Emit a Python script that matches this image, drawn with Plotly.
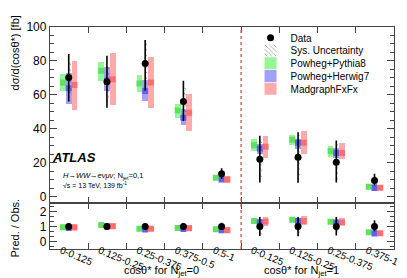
import plotly.graph_objects as go

# ---- data ----
bin_labels = ["0-0.125", "0.125-0.25", "0.25-0.375", "0.375-0.5", "0.5-1",
              "0-0.125", "0.125-0.25", "0.25-0.375", "0.375-1"]
data_val = [70.2, 67.7, 78.5, 56.1, 13.4, 22.0, 23.1, 20.2, 9.4]
data_up = [13.8, 15.3, 13.8, 12.2, 3.3, 13.9, 14.8, 12.8, 4.0]
data_dn = [14.2, 15.4, 16.0, 11.5, 3.0, 13.8, 15.0, 12.0, 2.9]
data_sys = [9.0, 10.0, 12.0, 8.0, 2.2, 12.5, 13.0, 11.0, 3.0]

pyt_c = [67.3, 74.2, 66.7, 50.8, 11.0, 30.2, 33.5, 26.7, 5.8]
pyt_lo = [62.3, 68.3, 61.5, 46.5, 9.6, 26.7, 30.6, 23.4, 4.6]
pyt_hi = [72.3, 79.6, 71.7, 54.6, 12.3, 34.0, 36.3, 29.8, 7.1]

her_c = [63.8, 68.5, 62.3, 46.5, 10.0, 28.3, 31.7, 25.7, 5.0]
her_lo = [54.6, 62.0, 56.5, 42.1, 8.4, 25.0, 28.3, 23.0, 3.8]
her_hi = [72.9, 76.3, 68.7, 51.4, 11.5, 31.2, 34.0, 28.8, 7.1]

mg_c = [65.8, 69.2, 67.3, 49.4, 10.0, 29.4, 31.7, 25.7, 5.2]
mg_lo = [51.0, 53.8, 52.3, 38.4, 7.7, 22.8, 24.8, 21.9, 3.8]
mg_hi = [80.2, 84.6, 82.1, 60.6, 12.3, 35.7, 38.8, 31.5, 6.5]

FONT = "Liberation Sans"
nb = len(bin_labels)
centers = [i + 0.5 for i in range(nb)]
edges = list(range(1, nb))

models = [
    ("Powheg+Pythia8", pyt_c, pyt_lo, pyt_hi, -0.16, "rgb(150,245,150)", "rgb(95,225,95)", "legend3"),
    ("Powheg+Herwig7", her_c, her_lo, her_hi, -0.01, "rgb(160,160,255)", "rgb(95,95,240)", "legend4"),
    ("MadgraphFxFx", mg_c, mg_lo, mg_hi, 0.14, "rgb(255,170,170)", "rgb(255,110,110)", "legend5"),
]
dx = -0.01
W = 0.15

fig = go.Figure()


def add_panel(ratio, xa, ya):
    show = not ratio
    dvals = [1.0] * nb if ratio else data_val
    den = data_val if ratio else [1.0] * nb
    for name, c, lo, hi, off, light, dark, leg in models:
        lo_r = [l / d for l, d in zip(lo, den)]
        hi_r = [h / d for h, d in zip(hi, den)]
        c_r = [v / d for v, d in zip(c, den)]
        fig.add_trace(go.Bar(
            x=[xc + off for xc in centers], y=[h - l for h, l in zip(hi_r, lo_r)],
            base=lo_r, width=W, marker=dict(color=light, line=dict(width=0)),
            name=name, showlegend=show, legend=leg,
            xaxis=xa, yaxis=ya, hoverinfo="skip"))
        fig.add_trace(go.Scatter(
            x=[xc + off for xc in centers], y=c_r, mode="markers",
            marker=dict(symbol="square", size=6, color=dark, line=dict(width=0)),
            showlegend=False, xaxis=xa, yaxis=ya, hoverinfo="skip"))
    sys_r = [s / d for s, d in zip(data_sys, den)]
    fig.add_trace(go.Bar(
        x=[xc + dx + 0.02 for xc in centers], y=[2 * s for s in sys_r],
        base=[v - s for v, s in zip(dvals, sys_r)], width=0.07,
        marker=dict(color="rgba(0,0,0,0)", line=dict(width=0),
                    pattern=dict(shape="\\", fgcolor="black", bgcolor="rgba(0,0,0,0)",
                                 size=4, solidity=0.2)),
        name="Sys. Uncertainty", showlegend=show, legend="legend2",
        xaxis=xa, yaxis=ya, hoverinfo="skip"))
    up_r = [u / d for u, d in zip(data_up, den)]
    dn_r = [u / d for u, d in zip(data_dn, den)]
    fig.add_trace(go.Scatter(
        x=[xc + dx for xc in centers], y=dvals, mode="markers",
        marker=dict(symbol="circle", size=7, color="black"),
        error_y=dict(type="data", symmetric=False, array=up_r, arrayminus=dn_r,
                     color="black", thickness=1.6, width=0),
        name="Data", showlegend=show, legend="legend",
        xaxis=xa, yaxis=ya, hoverinfo="skip"))


add_panel(False, "x", "y")
add_panel(True, "x2", "y2")

axcol = "#444444"
common_x = dict(range=[0, nb], showgrid=False, zeroline=False, showline=True,
                linecolor=axcol, linewidth=1.3, mirror="ticks",
                tickmode="array", tickvals=centers, ticklen=0, ticks="",
                minor=dict(tickmode="array", tickvals=edges, ticks="inside",
                           ticklen=6, tickwidth=1.2, tickcolor=axcol))

row_px = [25, 38, 51, 64, 77]
legs = {}
for i, py in enumerate(row_px):
    key = "legend" if i == 0 else "legend%d" % (i + 1)
    legs[key] = dict(x=0.583, y=(240.7 - py) / 226.7, xanchor="left", yanchor="middle",
                     bgcolor="rgba(0,0,0,0)", font=dict(size=10, family=FONT),
                     itemwidth=30, borderwidth=0)

fig.update_layout(
    width=407, height=278,
    margin=dict(l=42, r=21, t=14, b=37),
    paper_bgcolor="white", plot_bgcolor="white",
    barmode="overlay", bargap=0,
    font=dict(family=FONT, size=10, color="black"),
    showlegend=True,
    **legs,
    xaxis=dict(common_x, anchor="y", showticklabels=False),
    xaxis2=dict(common_x, anchor="y2", matches="x", showticklabels=True,
                ticktext=bin_labels, tickangle=22,
                ticklabelstandoff=-9, ticklabelshift=-8,
                tickfont=dict(size=10, family=FONT)),
    yaxis=dict(domain=[0.206, 1], range=[-4, 100], showgrid=False, zeroline=False,
               showline=True, linecolor=axcol, linewidth=1.3, mirror="ticks",
               ticks="inside", ticklen=7, tickwidth=1.2, tickcolor=axcol,
               tickvals=[0, 20, 40, 60, 80, 100], tickfont=dict(size=12),
               minor=dict(dtick=5, ticks="inside", ticklen=4, tickcolor=axcol)),
    yaxis2=dict(domain=[0, 0.206], range=[-0.5, 2.55], showgrid=False, zeroline=False,
                showline=True, linecolor=axcol, linewidth=1.3, mirror="ticks",
                ticks="inside", ticklen=7, tickwidth=1.2, tickcolor=axcol,
                tickvals=[0, 1, 2], tickfont=dict(size=12),
                minor=dict(dtick=1 / 3, ticks="inside", ticklen=4, tickcolor=axcol)),
)

fig.add_shape(type="line", xref="x", yref="paper", x0=5, x1=5, y0=0, y1=1,
              line=dict(color="rgb(225,70,70)", width=1.3, dash="dot"))

fig.add_annotation(text="dσ/d(cosθ*) [fb]", xref="paper", yref="paper", x=-0.102, y=0.885,
                   xanchor="center", yanchor="middle", textangle=-90, showarrow=False,
                   font=dict(size=11))
fig.add_annotation(text="Pred. / Obs.", xref="paper", yref="paper", x=-0.102, y=0.096,
                   xanchor="center", yanchor="middle", textangle=-90, showarrow=False,
                   font=dict(size=11))

fig.add_annotation(text="cosθ* for N<sub>jet</sub>=0", xref="x2", yref="paper",
                   x=2.93, y=-0.098, xanchor="center", yanchor="middle",
                   showarrow=False, font=dict(size=11))
fig.add_annotation(text="cosθ* for N<sub>jet</sub>=1", xref="x2", yref="paper",
                   x=6.59, y=-0.098, xanchor="center", yanchor="middle",
                   showarrow=False, font=dict(size=11))

fig.add_annotation(text="<b><i>ATLAS</i></b>", xref="paper", yref="paper",
                   x=0.0, y=0.41, xanchor="left", yanchor="middle", showarrow=False,
                   font=dict(size=13, family=FONT))
fig.add_annotation(text="<i>H→WW→eνμν</i>; N<sub>jet</sub>=0,1", xref="paper", yref="paper",
                   x=0.033, y=0.33, xanchor="left", yanchor="middle", showarrow=False,
                   font=dict(size=7.5))
fig.add_annotation(text="√s = 13 TeV, 139 fb<sup>-1</sup>", xref="paper", yref="paper",
                   x=0.033, y=0.287, xanchor="left", yanchor="middle", showarrow=False,
                   font=dict(size=7))

fig.write_html("out.html")
